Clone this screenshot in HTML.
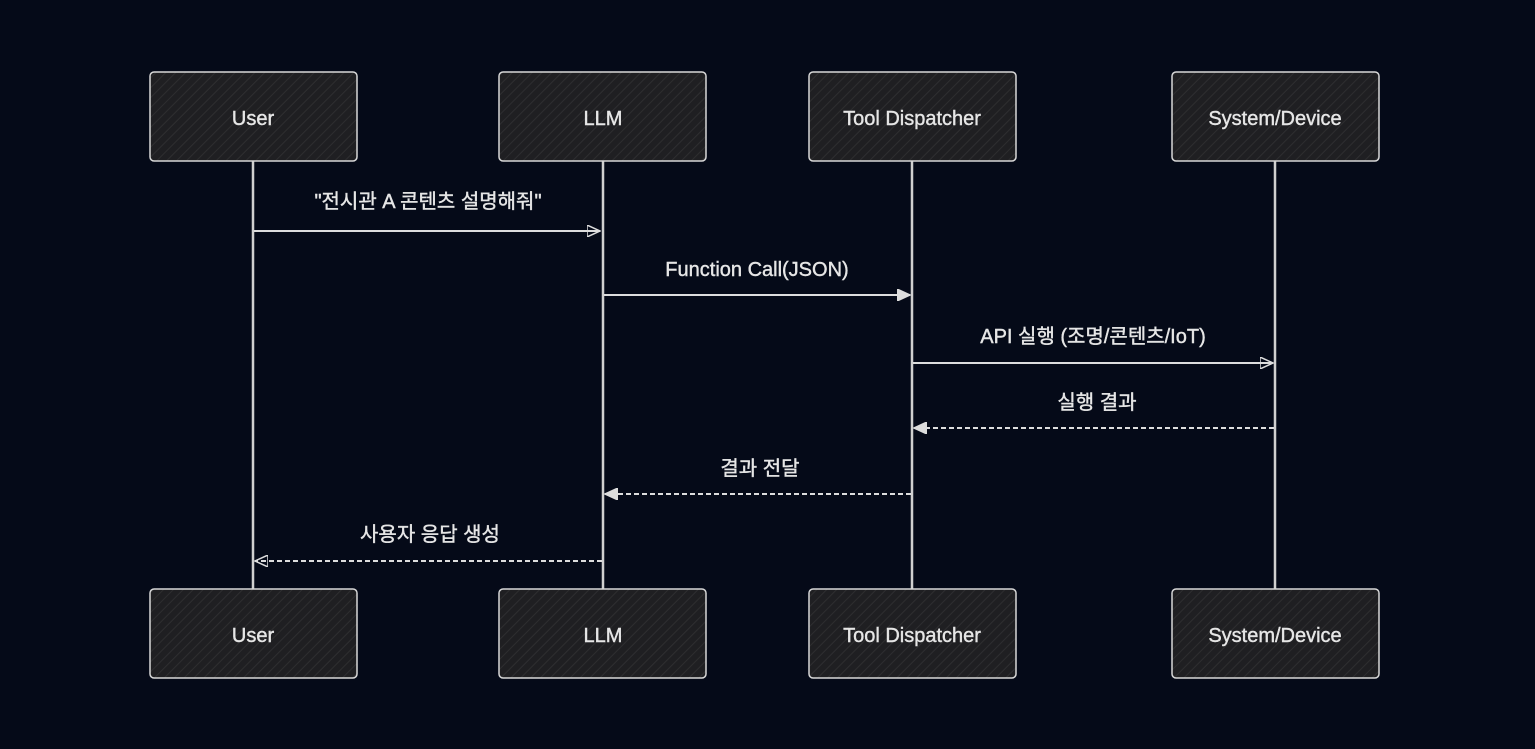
<!DOCTYPE html>
<html><head><meta charset="utf-8"><style>
html,body{margin:0;padding:0;background:#050a18;}
svg{display:block}
text{font-family:"Liberation Sans","Noto Sans CJK KR",sans-serif;fill:#e6e6e6;font-size:20px;text-anchor:middle;stroke:#e6e6e6;stroke-width:0.4;}
</style></head><body>
<svg width="1535" height="749" viewBox="0 0 1535 749">
<defs>
<pattern id="h" width="7" height="7" patternUnits="userSpaceOnUse" patternTransform="rotate(45)">
<rect width="7" height="7" fill="#1f1f22"/><line x1="0" y1="0" x2="0" y2="7" stroke="#2e2e30" stroke-width="2"/>
</pattern>
<marker id="a" markerWidth="14" markerHeight="12" refX="13" refY="6" orient="auto" markerUnits="userSpaceOnUse">
<path d="M0,0 L13,6 L0,12 Z" fill="none" stroke="#ddd" stroke-width="1.5"/></marker>
<marker id="b" markerWidth="14" markerHeight="12" refX="13" refY="6" orient="auto" markerUnits="userSpaceOnUse">
<path d="M0,0 L13,6 L0,12 Z" fill="#ddd" stroke="#ddd" stroke-width="1.5"/></marker>
</defs>
<rect width="1535" height="749" fill="#050a18"/>
<g stroke="#d0d0d0" stroke-width="2.5">
<line x1="253" y1="161" x2="253" y2="589"/>
<line x1="603" y1="161" x2="603" y2="589"/>
<line x1="912" y1="161" x2="912" y2="589"/>
<line x1="1275" y1="161" x2="1275" y2="589"/>
</g>
<g fill="url(#h)" stroke="#d8d8d8" stroke-width="1.5">
<rect x="150" y="72" width="207" height="89" rx="4"/>
<rect x="499" y="72" width="207" height="89" rx="4"/>
<rect x="809" y="72" width="207" height="89" rx="4"/>
<rect x="1172" y="72" width="207" height="89" rx="4"/>
<rect x="150" y="589" width="207" height="89" rx="4"/>
<rect x="499" y="589" width="207" height="89" rx="4"/>
<rect x="809" y="589" width="207" height="89" rx="4"/>
<rect x="1172" y="589" width="207" height="89" rx="4"/>
</g>
<text x="253" y="125">User</text><text x="603" y="125">LLM</text>
<text x="912" y="125">Tool Dispatcher</text><text x="1275" y="125">System/Device</text>
<text x="253" y="642">User</text><text x="603" y="642">LLM</text>
<text x="912" y="642">Tool Dispatcher</text><text x="1275" y="642">System/Device</text>
<g stroke="#ddd" stroke-width="2" fill="none">
<line x1="254" y1="231" x2="600" y2="231" marker-end="url(#a)"/>
<line x1="604" y1="295" x2="910" y2="295" marker-end="url(#b)"/>
<line x1="913" y1="363" x2="1273" y2="363" marker-end="url(#a)"/>
<line x1="1274" y1="428" x2="914" y2="428" stroke-dasharray="5,3" marker-end="url(#b)"/>
<line x1="911" y1="494" x2="605" y2="494" stroke-dasharray="5,3" marker-end="url(#b)"/>
<line x1="602" y1="561" x2="255" y2="561" stroke-dasharray="5,3" marker-end="url(#a)"/>
</g>
<text x="428" y="208">"전시관 A 콘텐츠 설명해줘"</text>
<text x="757" y="276">Function Call(JSON)</text>
<text x="1093" y="343">API 실행 (조명/콘텐츠/IoT)</text>
<text x="1097" y="409">실행 결과</text>
<text x="760" y="475">결과 전달</text>
<text x="430" y="541">사용자 응답 생성</text>
</svg>
</body></html>
